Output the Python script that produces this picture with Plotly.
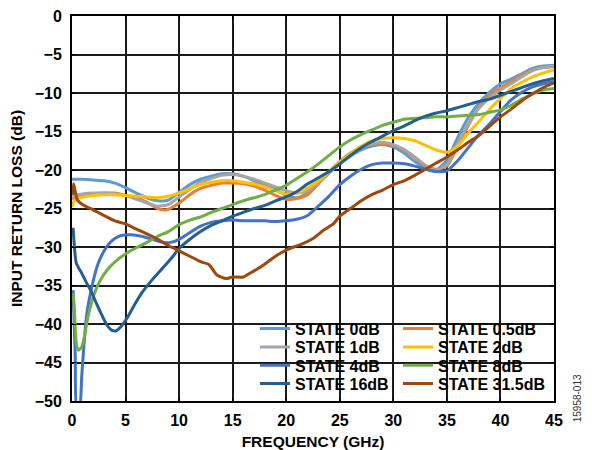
import plotly.graph_objects as go

# ---------------- data ----------------
f_std = [0, 1, 2, 3, 4, 5, 6, 7, 8, 9, 10, 11, 12, 13, 14, 15, 16, 17, 18, 19, 20, 21, 22,
         23, 24, 25, 26, 27, 28, 29, 30, 31, 32, 33, 34, 35, 36, 37, 38, 39, 40, 41, 42, 43, 44, 45]

rl_0dB = [-21.2, -21.2, -21.3, -21.4, -21.7, -22.3, -23.0, -23.6, -24.0, -23.9, -22.9, -21.9,
          -21.2, -20.8, -20.5, -20.5, -20.8, -21.4, -22.0, -22.5, -23.3, -23.6, -23.0, -21.7,
          -20.4, -19.2, -18.2, -17.4, -16.9, -16.7, -17.0, -17.8, -18.9, -19.7, -20.0, -18.7,
          -15.8, -13.2, -11.3, -9.9, -8.8, -8.2, -7.5, -6.8, -6.5, -6.4]

rl_1dB = [-23.3, -23.1, -23.0, -23.0, -23.1, -23.3, -23.8, -24.3, -24.7, -24.5, -23.5, -22.5,
          -21.6, -21.1, -20.7, -20.6, -20.8, -21.2, -21.7, -22.2, -22.7, -23.0, -22.7, -21.6,
          -20.3, -19.0, -17.9, -17.0, -16.6, -16.4, -16.7, -17.3, -18.3, -19.4, -20.0, -19.3,
          -16.6, -14.0, -12.0, -10.6, -9.6, -8.8, -7.9, -7.1, -6.7, -6.5]

f_05dB = [0, 0.3, 1, 2, 3, 4, 5, 6, 7, 8, 8.6, 9, 10, 11, 12, 13, 14, 15, 16, 17, 18, 19, 20,
          21, 22, 23, 24, 25, 26, 27, 28, 29, 30, 31, 32, 33, 34, 35, 36, 37, 38, 39, 40, 41,
          42, 43, 44, 45]
rl_05dB = [-23.8, -23.6, -23.3, -23.1, -23.0, -23.0, -23.3, -23.6, -24.2, -25.0, -25.2, -25.1,
           -24.3, -23.2, -22.4, -22.0, -21.7, -21.7, -21.8, -22.1, -22.6, -23.3, -23.8, -23.7,
           -23.2, -21.8, -20.2, -18.9, -17.8, -17.1, -16.7, -16.6, -16.8, -17.4, -18.4, -19.5,
           -19.9, -19.5, -16.9, -14.2, -11.8, -10.3, -9.3, -8.5, -7.7, -7.0, -6.7, -6.6]

f_2dB = [0, 0.3, 1, 2, 3, 4, 5, 6, 7, 8, 9, 10, 11, 12, 13, 14, 15, 16, 17, 18, 19, 20, 21,
         22, 23, 24, 25, 26, 27, 28, 29, 30, 31, 32, 33, 34, 35, 36, 37, 38, 39, 40, 41, 42,
         43, 44, 45]
rl_2dB = [-24.8, -23.8, -23.5, -23.3, -23.2, -23.2, -23.3, -23.4, -23.5, -23.6, -23.4, -23.0,
          -22.4, -21.9, -21.6, -21.4, -21.4, -21.6, -21.8, -22.2, -22.7, -23.1, -23.0, -22.3,
          -21.4, -20.2, -19.0, -17.9, -16.9, -16.2, -15.9, -15.8, -15.9, -16.2, -16.8, -17.4,
          -17.7, -16.9, -15.2, -13.7, -12.1, -10.7, -9.4, -8.6, -7.9, -7.4, -7.0]

f_4dB = [0.1, 0.3, 0.45, 0.7, 0.9, 1.1, 1.4, 1.8, 2.4, 3.0, 3.5, 4.0, 4.6, 5.5, 6.5, 7.5, 8.5,
         9.2, 10.0, 10.8, 12, 13, 14, 15, 16, 17, 18, 19, 20, 21, 22, 23, 24, 25, 26, 27, 28,
         29, 30, 31, 32, 33, 34, 35, 36, 37, 38, 39, 40, 41, 42, 43, 44, 45]
rl_4dB = [-35.6, -44.0, -51.0, -51.0, -47.0, -43.0, -38.5, -35.5, -32.3, -30.5, -29.5, -28.9,
          -28.5, -28.4, -28.6, -29.0, -29.4, -29.4, -29.0, -28.3, -27.3, -26.8, -26.6, -26.5,
          -26.6, -26.6, -26.6, -26.7, -26.6, -26.4, -25.9, -24.7, -23.4, -21.9, -20.8, -19.9,
          -19.3, -19.1, -19.1, -19.2, -19.5, -19.9, -20.2, -20.1, -18.8, -17.1, -15.4, -14.0,
          -12.4, -10.9, -9.9, -9.2, -8.8, -8.5]

f_8dB = [0.1, 0.2, 0.4, 0.6, 0.9, 1.1, 1.5, 2.1, 2.7, 3.4, 4.2, 5.1, 6.0, 7.0, 8.0, 9.0, 10,
         11, 12, 13, 14, 15, 16, 17, 18, 19, 20, 21, 22, 23, 24, 25, 26, 27, 28, 29, 30, 31,
         32, 33, 34, 35, 36, 37, 38, 39, 40, 41, 42, 43, 44, 45]
rl_8dB = [-36.0, -37.5, -42.5, -43.4, -43.0, -42.0, -39.0, -36.0, -34.2, -32.8, -31.7, -30.8,
          -30.1, -29.4, -28.6, -28.0, -27.1, -26.5, -26.1, -25.5, -25.0, -24.5, -24.0, -23.6,
          -23.2, -22.6, -22.0, -21.1, -20.2, -19.2, -18.1, -17.0, -16.1, -15.4, -14.8, -14.2,
          -13.8, -13.4, -13.3, -13.2, -13.1, -13.1, -13.0, -12.9, -12.8, -12.5, -12.2, -11.6,
          -10.8, -10.1, -9.6, -9.4]

f_16dB = [0.1, 0.2, 0.4, 0.9, 1.3, 1.8, 2.3, 2.7, 3.2, 3.7, 4.1, 4.6, 5.2, 5.8, 6.5, 7.4, 8.3,
          9.2, 10, 11, 12, 13, 14, 15, 16, 17, 18, 19, 20, 21, 22, 23, 24, 25, 26, 27, 28, 29,
          30, 31, 32, 33, 34, 35, 36, 37, 38, 39, 40, 41, 42, 43, 44, 45]
rl_16dB = [-27.5, -29.5, -32.1, -33.4, -34.5, -35.8, -37.4, -38.6, -40.0, -40.8, -40.9, -40.3,
           -39.1, -37.6, -36.0, -34.4, -33.0, -31.6, -30.2, -29.0, -28.0, -27.2, -26.6, -26.0,
           -25.5, -25.0, -24.6, -24.0, -23.5, -22.8, -21.8, -21.0, -20.2, -19.2, -18.1, -17.1,
           -16.3, -15.6, -14.9, -14.3, -13.6, -13.0, -12.6, -12.3, -11.9, -11.5, -11.1, -10.8,
           -10.3, -9.8, -9.3, -8.8, -8.4, -8.1]

f_315dB = [0.05, 0.15, 0.5, 1, 2, 2.7, 4, 5, 5.9, 7, 8, 9, 10, 11, 12, 12.8, 13.5, 14.4, 15, 16,
           16.5, 17.6, 18.5, 19.1, 20, 20.7, 21.5, 22.5, 23.5, 24.4, 25, 26.3, 27, 28, 29, 30,
           31, 32, 33, 34, 35, 36, 37, 38, 39, 40, 41, 42, 43, 44, 45]
rl_315dB = [-23.2, -21.8, -23.9, -24.5, -25.2, -25.7, -26.6, -27.0, -27.6, -28.3, -29.0, -29.8,
            -30.5, -31.2, -31.9, -32.3, -33.6, -34.1, -33.9, -33.9, -33.5, -32.6, -31.7, -31.1,
            -30.4, -30.0, -29.6, -28.9, -27.8, -27.0, -26.0, -24.7, -24.0, -23.2, -22.6, -21.9,
            -21.4, -20.7, -19.9, -19.1, -18.3, -17.4, -16.4, -15.5, -14.3, -13.1, -12.1, -11.0,
            -10.1, -9.3, -8.7]

series_names = ["STATE 0dB", "STATE 0.5dB", "STATE 1dB", "STATE 2dB",
                "STATE 4dB", "STATE 8dB", "STATE 16dB", "STATE 31.5dB"]
series_x = [f_std, f_05dB, f_std, f_2dB, f_4dB, f_8dB, f_16dB, f_315dB]
series_y = [rl_0dB, rl_05dB, rl_1dB, rl_2dB, rl_4dB, rl_8dB, rl_16dB, rl_315dB]
series_colors = ["#5B9BD5", "#ED7D31", "#A5A5A5", "#FFC000",
                 "#4472C4", "#70AD47", "#255E91", "#9E480E"]
legend_ids = ["legend", "legend", "legend2", "legend2",
              "legend3", "legend3", "legend4", "legend4"]
legend_widths = [98, 125, 98, 125, 98, 125, 98, 125]

x_ticks = [0, 5, 10, 15, 20, 25, 30, 35, 40, 45]
y_ticks = [0, -5, -10, -15, -20, -25, -30, -35, -40, -45, -50]

FONT = "Arial, Liberation Sans, sans-serif"

fig = go.Figure()
for name, xs, ys, col, lg, lw in zip(series_names, series_x, series_y, series_colors,
                                     legend_ids, legend_widths):
    fig.add_trace(go.Scatter(x=xs, y=ys, mode="lines", name=name, legend=lg, legendwidth=lw,
                             line=dict(color=col, width=3, shape="spline", smoothing=0.6)))

# white panel behind the legend (hides gridlines there)
fig.add_shape(type="rect", xref="paper", yref="paper", x0=0.386, x1=1.0, y0=0.0, y1=0.2286,
              fillcolor="white", line=dict(width=0), layer="between")

legend_common = dict(orientation="h", xanchor="left", yanchor="top", x=0.3797,
                     bgcolor="rgba(0,0,0,0)", borderwidth=0,
                     font=dict(family=FONT, size=16, color="black", weight="bold"),
                     itemclick=False, itemdoubleclick=False)

fig.update_layout(
    width=592, height=450,
    margin=dict(l=72, r=38, t=16, b=49),
    plot_bgcolor="white", paper_bgcolor="white",
    font=dict(family=FONT, size=16, color="black", weight="bold"),
    showlegend=True,
    legend=dict(legend_common, y=0.2319),
    legend2=dict(legend_common, y=0.1842),
    legend3=dict(legend_common, y=0.1366),
    legend4=dict(legend_common, y=0.0891),
    xaxis=dict(range=[0, 45], tickvals=x_ticks, showgrid=True, gridcolor="#1a1a1a",
               gridwidth=1.5, zeroline=False, showline=True, linecolor="black", linewidth=2,
               mirror="ticks", ticks="inside", ticklen=4, tickwidth=1.3, tickcolor="black",
               automargin=False, ticklabelstandoff=4,
               tickfont=dict(family=FONT, size=16, weight="bold"),
               title=dict(text="FREQUENCY (GHz)", standoff=8,
                          font=dict(family=FONT, size=15.5, weight="bold"))),
    yaxis=dict(range=[-50, 0], tickvals=y_ticks, showgrid=True, gridcolor="#1a1a1a",
               gridwidth=1.5, zeroline=False, showline=True, linecolor="black", linewidth=2,
               mirror="ticks", ticks="inside", ticklen=4, tickwidth=1.3, tickcolor="black",
               automargin=False, ticklabelstandoff=5,
               tickfont=dict(family=FONT, size=16, weight="bold"),
               title=dict(text="INPUT RETURN LOSS (dB)", standoff=8,
                          font=dict(family=FONT, size=15.5, weight="bold"))),
    annotations=[dict(text="15958-013", xref="paper", yref="paper", x=1.066, y=-0.0597,
                      textangle=-90, showarrow=False,
                      font=dict(family=FONT, size=10, color="#333333", weight="normal"))],
)

fig.write_html("out.html", config={"displayModeBar": False},
               post_script="document.body.style.margin='0';document.body.style.overflow='hidden';")
